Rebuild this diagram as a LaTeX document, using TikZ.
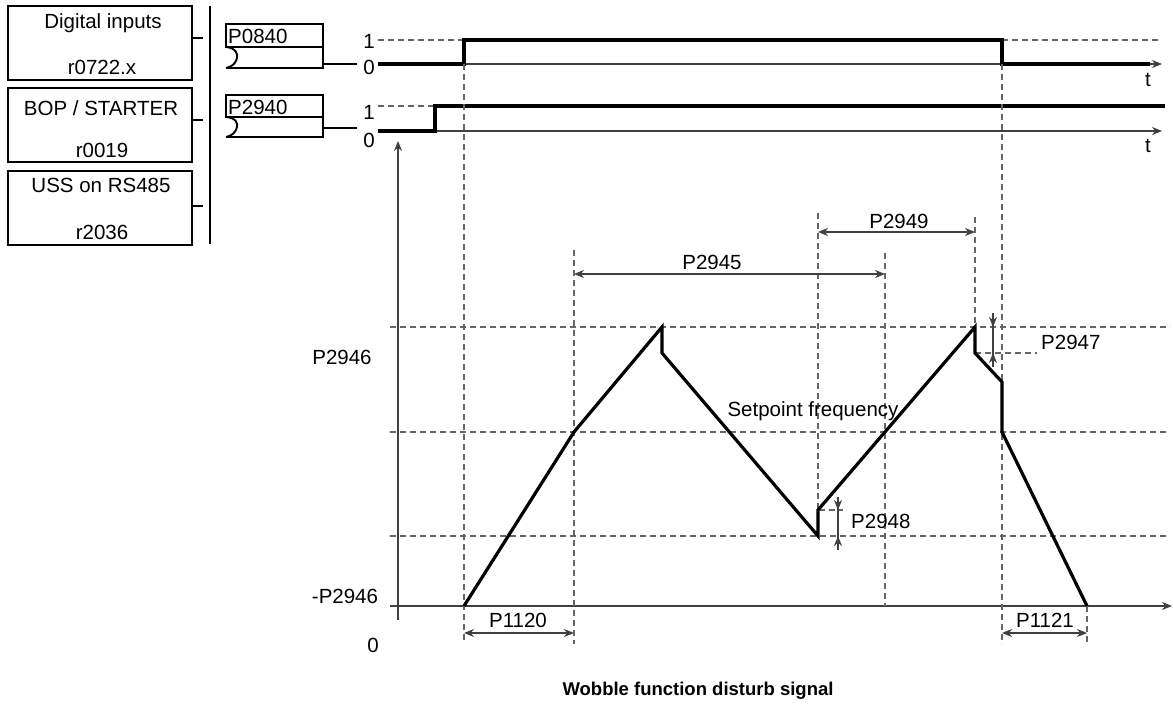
\documentclass[tikz,border=0pt]{standalone}
\usepackage{fontspec}
\setmainfont{Liberation Sans}
\usetikzlibrary{arrows.meta}
\begin{document}
\begin{tikzpicture}[x=1pt,y=-1pt,
  lbl/.style={inner sep=0pt,font=\fontsize{20.5}{22}\selectfont},
  frame/.style={draw=black,line width=1.9pt},
  thin/.style={draw=black!75,line width=1.5pt},
  sig/.style={draw=black,line width=3.2pt,line join=miter},
  guide/.style={draw=black!60,line width=1.3pt,dash pattern=on 6pt off 4pt},
  tip/.style={-{Stealth[length=10pt,width=8pt]}},
  dim/.style={draw=black!75,line width=1.5pt,{Stealth[length=10pt,width=8pt]}-{Stealth[length=10pt,width=8pt]}}
]
\useasboundingbox (0,0) rectangle (1173,714);
% source boxes
\node[frame,minimum width=184pt,minimum height=74pt,inner sep=0pt] (b1) at (100,43) {};
\node[frame,minimum width=184pt,minimum height=74pt,inner sep=0pt] (b2) at (100,125) {};
\node[frame,minimum width=184pt,minimum height=74pt,inner sep=0pt] (b3) at (100,208) {};
\node[lbl] (t1a) at (103,23) {Digital inputs};
\node[lbl] (t1b) at (102,67) {r0722.x};
\node[lbl] (t2a) at (101,108) {BOP / STARTER};
\node[lbl] (t2b) at (102,150) {r0019};
\node[lbl] (t3a) at (101,185) {USS on RS485};
\node[lbl] (t3b) at (102,232) {r2036};
\coordinate (bar1) at (210,6);
\coordinate (bar2) at (210,244);
\draw[frame] (bar1) -- (bar2);
\draw[frame] (b1.east |- 0,38) -- (203,38);
\draw[frame] (b2.east |- 0,120) -- (203,120);
\draw[frame] (b3.east |- 0,206) -- (203,206);
% parameter boxes
\draw[frame] (226,24) rectangle (323,47);
\draw[frame] (226,47) -- (323,47) -- (323,68) -- (226,68);
\draw[frame] (226,47) .. controls (236,48) and (238,54) .. (237,58) .. controls (236,63) and (232,67) .. (226,68);
\node[lbl,anchor=west] (p0840) at (228,36) {P0840};
\draw[frame] (323,64) -- (357,64);
\draw[frame] (226,95) rectangle (323,117);
\draw[frame] (226,117) -- (323,117) -- (323,137) -- (226,137);
\draw[frame] (226,117) .. controls (236,118) and (238,123) .. (237,127) .. controls (236,132) and (232,136) .. (226,137);
\node[lbl,anchor=west] (p2940) at (228,107) {P2940};
\draw[frame] (323,128) -- (357,128);
% top signals
\node[lbl] (one1) at (369,41) {1};
\node[lbl] (zero1) at (369,67) {0};
\node[lbl] (one2) at (369,112) {1};
\node[lbl] (zero2) at (369,140) {0};
\node[lbl] (tt1) at (1148,80) {t};
\node[lbl] (tt2) at (1148,146) {t};
\draw[thin,tip] (378,64) -- (1162,64);
\draw[thin,tip] (378,131) -- (1162,131);
\draw[guide] (378,40) -- (464,40);
\draw[guide] (1002,40) -- (1162,40);
\draw[guide] (378,106) -- (435,106);
\draw[sig] (378,64) -- (464,64) -- (464,40) -- (1002,40) -- (1002,64) -- (1150,64);
\draw[sig] (378,131) -- (435,131) -- (435,106) -- (1165,106);
% main axes
\coordinate (yb) at (398,620);
\coordinate (yt) at (398,141);
\coordinate (xl) at (390,606);
\coordinate (xr) at (1172,606);
\draw[thin,tip] (yb) -- (yt);
\draw[thin,tip] (xl) -- (xr);
% horizontal guides
\draw[guide] (390,327) -- (1170,327);
\draw[guide] (390,432) -- (1170,432);
\draw[guide] (390,536) -- (1170,536);
\draw[guide] (975,353) -- (1037,353);
\draw[guide] (819,510) -- (843,510);
% vertical guides
\draw[guide] (464,64) -- (464,644);
\draw[guide] (574,250) -- (574,644);
\draw[guide] (818,213) -- (818,510);
\draw[guide] (885,253) -- (885,606);
\draw[guide] (975,217) -- (975,327);
\draw[guide] (1002,64) -- (1002,644);
\draw[guide] (1087,606) -- (1087,644);
% waveform
\coordinate (w0) at (464,606);
\coordinate (w1) at (574,432);
\coordinate (w2) at (662,327);
\coordinate (w3) at (662,353);
\coordinate (w4) at (818,536);
\coordinate (w5) at (818,510);
\coordinate (w6) at (975,327);
\coordinate (w7) at (975,353);
\coordinate (w8) at (1002,382);
\coordinate (w9) at (1002,432);
\coordinate (w10) at (1087,606);
\draw[sig] (w0) -- (w1) -- (w2) -- (w3) -- (w4) -- (w5) -- (w6) -- (w7) -- (w8) -- (w9) -- (w10);
% dimension arrows
\draw[dim] (574,274) -- (885,274);
\node[lbl] (l2945) at (712,262) {P2945};
\draw[dim] (818,232) -- (975,232);
\node[lbl] (l2949) at (899,221) {P2949};
\draw[dim] (464,633) -- (574,633);
\node[lbl] (l1120) at (518,620) {P1120};
\draw[dim] (1002,633) -- (1087,633);
\node[lbl] (l1121) at (1045,620) {P1121};
% P2947
\draw[thin] (993,313) -- (993,367);
\draw[thin,tip] (993,313) -- (993,327);
\draw[thin,tip] (993,367) -- (993,353);
\node[lbl,anchor=west] (l2947) at (1041,342) {P2947};
% P2948
\draw[thin] (838,497) -- (838,550);
\draw[thin,tip] (838,497) -- (838,510);
\draw[thin,tip] (838,550) -- (838,536);
\node[lbl,anchor=west] (l2948) at (851,521) {P2948};
% axis labels
\node[lbl] (lp) at (342,357) {P2946};
\node[lbl] (lm) at (345,596) {-P2946};
\node[lbl] (l0) at (373,645) {0};
\node[lbl] (sp) at (813,411) {Setpoint frequency};
\node[lbl,font=\fontsize{18.5}{20}\selectfont\bfseries] (title) at (698,691) {Wobble function disturb signal};
\end{tikzpicture}
\end{document}
